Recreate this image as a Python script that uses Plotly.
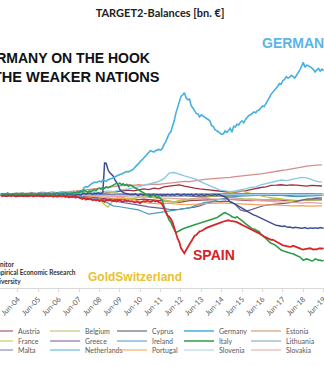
import pandas as pd
import plotly.graph_objects as go

# ---- monthly series (bn EUR), Aug 2003 .. Jun 2019 ----
months = pd.date_range("2003-08-01", "2019-06-01", freq="MS")

germany = [
    8, 4, 10, 6, 14,
    5, 9, 3, 12, 7, 10, 2, 8, 14, 6, 11, 4,
    9, 13, 6, 10, 3, 15, 8, 12, 5, 18, 10, 7,
    12, 6, 15, 9, 4, 14, 18, 10, 16, 8, 20, 13,
    10, 16, 8, 14, 20, 12, 18, 30, 55, 62, 58, 71,
    80, 86, 95, 90, 98, 102, 96, 110, 105, 100, 112, 115,
    118, 125, 132, 140, 146, 150, 155, 160, 168, 172, 170, 177,
    182, 190, 205, 215, 230, 245, 255, 270, 285, 300, 315, 326,
    322, 315, 325, 330, 335, 330, 340, 370, 390, 420, 450, 463,
    500, 545, 600, 640, 690, 725, 735, 751, 715, 700, 705, 656,
    640, 615, 600, 595, 575, 590, 580, 570, 560, 550, 545, 510,
    505, 480, 475, 465, 455, 445, 450, 470, 460, 478, 490, 461,
    505, 500, 520, 515, 535, 545, 530, 555, 570, 585, 590, 600,
    610, 605, 620, 625, 640, 655, 650, 670, 690, 715, 740, 754,
    770, 790, 800, 820, 815, 840, 850, 870, 860, 865, 880, 870,
    860, 880, 905, 920, 945, 975, 940, 955, 950, 945, 935, 920,
    905, 920, 930, 910, 925, 915,
]

spain = [
    -5, -8, -3, -10, -6,
    -4, -9, -2, -7, -12, -5, -8, -3, -10, -6, -4, -9,
    -7, -3, -11, -5, -8, -2, -9, -6, -12, -4, -7, -10,
    -5, -8, -13, -6, -10, -4, -9, -12, -7, -15, -10, -18,
    -12, -16, -10, -20, -14, -18, -25, -30, -22, -35, -28, -32,
    -30, -38, -34, -40, -36, -45, -38, -42, -50, -35, -40, -34,
    -38, -44, -36, -48, -42, -38, -45, -50, -40, -46, -42, -48,
    -45, -50, -55, -48, -52, -60, -50, -45, -48, -42, -46, -51,
    -45, -40, -48, -44, -52, -55, -70, -100, -130, -150, -160, -175,
    -200, -240, -290, -320, -345, -390, -410, -429, -405, -385, -360, -337,
    -315, -300, -295, -280, -268, -265, -255, -250, -242, -238, -232, -226,
    -222, -216, -212, -208, -206, -200, -195, -190, -188, -186, -190, -191,
    -192, -196, -200, -205, -210, -220, -226, -232, -238, -244, -250, -254,
    -262, -268, -275, -282, -290, -300, -305, -312, -320, -325, -330, -328,
    -335, -345, -352, -358, -365, -370, -372, -376, -378, -382, -380, -373,
    -378, -385, -388, -392, -398, -402, -398, -395, -390, -392, -396, -402,
    -398, -400, -395, -392, -396, -390,
]

italy = [
    5, 10, 3, 8, 12,
    6, 2, 9, 4, 11, 7, 3, 10, 5, 8, 2, 9,
    4, 11, 6, 2, 9, 5, 12, 7, 3, 10, 6, 13,
    8, 4, 12, 7, 15, 9, 5, 14, 10, 18, 12, 8,
    15, 10, 20, 14, 25, 18, 30, 22, 35, 28, 20, 30,
    25, 35, 40, 32, 45, 50, 42, 55, 48, 60, 52, 58,
    65, 72, 80, 85, 78, 88, 75, 82, 70, 78, 65, 72,
    68, 60, 55, 48, 40, 30, 20, 12, 5, -5, -10, -15,
    -5, 0, -10, -20, -15, -25, -40, -80, -110, -150, -185, -200,
    -230, -260, -275, -270, -262, -255, -250, -245, -240, -238, -232, -228,
    -225, -220, -215, -212, -208, -205, -200, -198, -195, -190, -186, -184,
    -180, -175, -168, -160, -150, -140, -135, -130, -135, -140, -150, -160,
    -165, -168, -160, -172, -180, -190, -200, -210, -220, -230, -240, -249,
    -250, -255, -265, -270, -285, -300, -310, -320, -335, -345, -355, -359,
    -365, -375, -385, -395, -405, -410, -415, -420, -425, -428, -430, -432,
    -440, -445, -450, -455, -465, -480, -475, -470, -475, -480, -485, -482,
    -470, -475, -480, -478, -485, -480,
]

ecb = [
    2, -3, 1, 4, -2,
    0, 3, -2, 1, 4, -1, 2, -3, 0, 3, 1, -2,
    2, -1, 3, 0, -2, 4, 1, -3, 2, 0, -1, 3,
    1, 4, -2, 0, 3, -1, 2, 5, 0, -2, 3, 1,
    4, 0, 2, -3, 5, 2, 0, 8, 12, 6, 10, 15,
    10, 5, 12, 8, 15, 10, 10, 20, 235, 232, 185, 165,
    150, 140, 115, 95, 74, 40, 25, 18, 12, 8, 6, 4,
    5, 3, 8, 2, -4, 6, 3, -2, 4, 1, 5, -3,
    2, 6, -1, 4, 0, 3, -5, 2, -3, 5, 1, -2,
    4, -2, 3, 6, 1, -4, 2, 5, -1, 3, 0, 4,
    -3, 2, 5, 0, -2, 4, 1, -5, 3, 0, 2, -3,
    1, 4, -2, 3, 0, -4, -8, -15, -25, -40, -50, -55,
    -62, -65, -72, -80, -88, -96, -104, -112, -120, -128, -136, -142,
    -148, -152, -158, -165, -172, -180, -186, -192, -198, -204, -210, -214,
    -218, -222, -225, -228, -230, -232, -228, -235, -238, -236, -240, -242,
    -238, -240, -244, -242, -245, -243, -240, -244, -246, -242, -244, -245,
    -242, -246, -244, -240, -243, -245,
]

# ---- quarterly series (bn EUR), Aug 2003 .. May 2019 ----
quarters = pd.date_range("2003-08-01", periods=64, freq="3MS")

netherlands = [
    5, 8, 3, 10, 6, 12, 4, 9, 7, 11, 5, 14, 8, 10, 6, 12,
    15, 10, 20, 18, 22, 30, 25, 35, 40, 45, 50, 60, 70, 80, 90, 100,
    120, 160, 165, 150, 140, 130, 120, 100, 85, 70, 50, 35, 30, 25, 30, 35,
    45, 55, 60, 75, 85, 90, 100, 110, 105, 115, 120, 130, 125, 110, 100, 95,
]
luxembourg = [
    5, 10, 8, 12, 15, 10, 18, 12, 20, 15, 22, 18, 25, 20, 28, 30,
    35, 40, 45, 50, 55, 60, 65, 70, 72, 75, 70, 75, 72, 78, 80, 78,
    82, 88, 92, 95, 100, 98, 105, 110, 115, 118, 120, 125, 128, 130, 135, 140,
    145, 148, 150, 155, 160, 168, 175, 180, 185, 190, 198, 205, 212, 218, 220, 222,
]
finland = [
    0, 3, -2, 5, 2, -3, 4, 1, -2, 6, 3, 0, 5, -1, 4, 2,
    5, 8, 3, 6, 10, 15, 20, 25, 30, 35, 30, 40, 45, 40, 50, 45,
    60, 65, 70, 74, 65, 55, 50, 45, 40, 35, 30, 25, 22, 20, 22, 25,
    30, 40, 50, 55, 60, 70, 72, 75, 70, 74, 72, 70, 65, 70, 68, 66,
]
greece = [
    -5, -8, -3, -10, -6, -12, -4, -9, -7, -11, -5, -14, -8, -10, -12, -15,
    -20, -25, -30, -28, -35, -40, -45, -50, -55, -60, -65, -70, -80, -87, -90, -95,
    -100, -105, -108, -105, -100, -98, -90, -80, -65, -52, -50, -48, -45, -50, -70, -110,
    -120, -110, -95, -85, -75, -72, -70, -65, -60, -55, -45, -35, -30, -28, -25, -22,
]
ireland = [
    3, -2, 5, 0, -4, 2, 6, -1, 3, -3, 1, 4, -2, 5, 0, -5,
    -10, -20, -30, -35, -40, -60, -80, -85, -90, -95, -100, -110, -125, -140, -135, -130,
    -120, -115, -110, -105, -100, -95, -80, -65, -55, -50, -40, -30, -20, -15, -10, -8,
    -5, -2, 0, 2, 5, 3, 0, -5, -8, -10, -12, -10, -8, -6, -5, -4,
]
portugal = [
    -2, 2, -4, 1, -3, 3, -1, -5, 2, -2, 0, -4, 1, -3, -5, -2,
    -5, -8, -12, -15, -20, -22, -25, -28, -30, -32, -35, -45, -55, -60, -62, -65,
    -62, -60, -65, -70, -72, -70, -68, -65, -60, -62, -60, -58, -60, -62, -65, -68,
    -70, -72, -70, -72, -75, -72, -75, -78, -80, -80, -80, -78, -82, -80, -78, -80,
]
belgium = [
    2, -3, 4, 0, -2, 5, 1, -4, 3, 0, -1, 4, -3, 2, 5, 0,
    -5, 0, 5, 8, 10, 15, 20, 12, 8, 5, 0, -5, -10, -15, -20, -25,
    -40, -50, -55, -45, -35, -30, -25, -20, -15, -10, -8, -5, -10, -15, -20, -25,
    -30, -28, -30, -32, -35, -30, -28, -30, -35, -38, -40, -42, -38, -35, -36, -38,
]
france = [
    5, 2, 8, 3, 6, 1, 9, 4, 7, 2, 10, 5, 8, 3, 12, 15,
    20, 25, 30, 10, -60, -90, -40, -15, -20, -30, -25, -15, -10, -5, -10, -20,
    -35, -45, -50, -40, -30, -35, -30, -25, -20, -15, -10, 0, 10, 20, 25, 30,
    20, 10, 0, -10, -15, -20, -25, -30, -35, -40, -45, -40, -30, -25, -20, -25,
]
austria = [
    -3, 2, -5, 0, -2, 3, -4, 1, -1, -3, 2, -2, 0, -4, -6, -8,
    -10, -12, -15, -20, -25, -30, -28, -35, -30, -32, -28, -34, -30, -33, -35, -38,
    -40, -45, -50, -55, -48, -42, -40, -38, -35, -32, -30, -28, -30, -32, -35, -38,
    -40, -42, -40, -38, -36, -34, -35, -38, -40, -42, -44, -40, -38, -36, -35, -34,
]
cyprus = [
    0, 1, -1, 2, 0, -2, 1, 0, -1, 2, 1, -1, 0, 2, 1, 3,
    4, 5, 6, 5, 4, 3, 2, 1, 0, -2, -3, -5, -4, -6, -5, -8,
    -7, -10, -8, -6, -9, -12, -10, -8, -7, -6, -5, -6, -4, -5, -3, -4,
    -2, -3, -2, -1, -2, 0, 1, 0, -1, 2, 3, 2, 4, 3, 2, 3,
]
estonia = [
    0, 1, 0, 2, 1, 0, 1, 2, 0, 1, 2, 1, 0, 2, 1, 3,
    2, 1, 3, 2, 1, 0, -1, 0, 1, 2, 1, 0, -1, 0, 1, 0,
    -1, 1, 2, 1, 0, 1, 2, 3, 2, 1, 2, 3, 4, 3, 2, 3,
    4, 5, 4, 3, 4, 5, 6, 5, 4, 5, 6, 5, 4, 5, 6, 5,
]
lithuania = [
    1, 0, 2, 1, 0, -1, 1, 0, 2, 1, 0, 1, -1, 0, 1, 2,
    1, 0, -1, -2, -1, 0, 1, 2, 3, 2, 1, 2, 3, 4, 3, 2,
    1, 2, 0, -1, 1, 2, 3, 2, 1, 0, 2, 3, 5, 6, 4, 5,
    3, 2, 4, 5, 3, 2, 4, 6, 5, 4, 3, 5, 6, 4, 3, 4,
]
latvia = [
    0, 1, -1, 0, 1, 0, -1, 1, 0, 1, 0, -1, 1, 0, 0, 1,
    0, -1, 1, 0, -2, -1, 0, 1, 2, 1, 0, 2, 3, 2, 1, 2,
    3, 2, 1, 2, 3, 2, 1, 0, 1, 2, 3, 2, 1, 3, 4, 3,
    2, 3, 4, 3, 2, 3, 4, 5, 4, 3, 4, 5, 4, 3, 4, 5,
]
malta = [
    0, 1, 2, 1, 0, 1, 2, 1, 0, 2, 1, 0, 1, 2, 1, 0,
    1, 2, 3, 2, 1, 2, 3, 4, 3, 2, 3, 4, 5, 4, 3, 4,
    5, 4, 3, 4, 5, 6, 5, 4, 5, 6, 7, 6, 5, 6, 7, 8,
    7, 6, 7, 8, 9, 8, 7, 8, 9, 10, 9, 8, 9, 10, 9, 8,
]
slovenia = [
    0, -1, 0, 1, -1, 0, -1, 1, 0, -1, 0, 1, 0, -1, -2, -1,
    -2, -3, -2, -4, -3, -5, -4, -3, -5, -4, -6, -5, -4, -6, -5, -7,
    -6, -8, -7, -6, -8, -5, -4, -3, -2, -3, -1, 0, 1, 0, 2, 1,
    0, 2, 3, 2, 4, 3, 2, 4, 5, 4, 3, 5, 4, 3, 5, 4,
]
slovakia = [
    0, 1, -1, 0, 1, -1, 0, 2, 1, 0, -1, 1, 0, 2, 1, 0,
    -1, -2, -3, -2, -5, -8, -10, -12, -10, -14, -12, -15, -18, -15, -20, -22,
    -20, -25, -28, -30, -32, -30, -28, -26, -25, -28, -30, -32, -35, -30, -28, -32,
    -35, -38, -40, -42, -45, -48, -50, -52, -50, -55, -58, -60, -55, -58, -60, -62,
]

# legend entries: (name, x-values, y-values, colour, width), laid out 5 per row
legend_series = [
    ("Austria", quarters, austria, "#9c3d4a", 1.2),
    ("Belgium", quarters, belgium, "#b4bb66", 1.2),
    ("Cyprus", quarters, cyprus, "#4f4f60", 1.2),
    ("Germany", months, germany, "#45b0e0", 1.6),
    ("Estonia", quarters, estonia, "#c98b5c", 1.2),
    ("France", quarters, france, "#b9c43e", 1.2),
    ("Greece", quarters, greece, "#6d5c96", 1.2),
    ("Ireland", quarters, ireland, "#4a9dc0", 1.2),
    ("Italy", months, italy, "#2e9c4a", 1.6),
    ("Lithuania", quarters, lithuania, "#7f9bb5", 1.2),
    ("Malta", quarters, malta, "#7878bf", 1.2),
    ("Netherlands", quarters, netherlands, "#86c8e6", 1.3),
    ("Portugal", quarters, portugal, "#f2a253", 1.2),
    ("Slovenia", quarters, slovenia, "#a9d3ec", 1.2),
    ("Slovakia", quarters, slovakia, "#e5a3a3", 1.2),
]
# further series without a visible legend entry
spain_s = ("Spain", months, spain, "#d7262b", 1.8)
finland_s = ("Finland", quarters, finland, "#a02d3c", 1.3)
luxembourg_s = ("Luxembourg", quarters, luxembourg, "#d58f8d", 1.3)
latvia_s = ("Latvia", quarters, latvia, "#c6bfdc", 1.2)
ecb_s = ("ECB", months, ecb, "#3d4f91", 1.5)

for _, xs, ys, _, _ in legend_series + [spain_s, finland_s, luxembourg_s, latvia_s, ecb_s]:
    assert len(xs) == len(ys)

tick_years = list(range(2004, 2020))
tick_vals = [f"{y}-06-01" for y in tick_years]
tick_text = [f"Jun-{y % 100:02d}" for y in tick_years]

W, H = 324, 366
PLOT_TOP, PLOT_BOTTOM = 30, 288


def px_x(x):
    return x / W


def px_y(y):
    return (PLOT_BOTTOM - y) / (PLOT_BOTTOM - PLOT_TOP)


fig = go.Figure()

legend_cols = [18, 85, 152, 219, 286]
legend_rows = [331, 341, 350]
legend_layout = {}
legend_ids = {}
for k, (name, *_rest) in enumerate(legend_series):
    lid = "legend" if k == 0 else f"legend{k + 1}"
    legend_ids[name] = lid
    r, c = divmod(k, 5)
    legend_layout[lid] = dict(
        x=px_x(legend_cols[c] - 40), xanchor="left",
        y=px_y(legend_rows[r]), yanchor="middle",
        orientation="h", bgcolor="rgba(0,0,0,0)", borderwidth=0,
        itemwidth=30,
        font=dict(family="Lato, Open Sans, sans-serif", size=7, color="#595959"),
    )

big_names = {"Germany", "Italy"}
background = [latvia_s, finland_s, luxembourg_s] + [s for s in legend_series if s[0] not in big_names]
foreground = [ecb_s] + [s for s in legend_series if s[0] in big_names] + [spain_s]

for name, xs, ys, color, width in background + foreground:
    fig.add_trace(go.Scatter(
        x=xs, y=ys, name=name, mode="lines",
        line=dict(color=color, width=width),
        showlegend=name in legend_ids,
        legend=legend_ids.get(name, "legend"),
    ))

bold = dict(family="Liberation Sans, Arial, sans-serif", weight="bold")
headline = [("GERMANY ON THE HOOK", 152, 58, 14), ("FOR THE WEAKER NATIONS", 162, 77, 14.6)]
for line, right_px, y_px, size in headline:
    fig.add_annotation(
        text=line, xref="paper", yref="paper", x=px_x(right_px), y=px_y(y_px),
        xanchor="right", yanchor="middle", showarrow=False,
        font=dict(size=size, color="#111111", **bold),
    )
fig.add_annotation(
    text="GERMANY", xref="x", yref="y", x="2016-04-10", y=1118,
    xanchor="left", yanchor="middle", showarrow=False,
    font=dict(size=14, color="#5ab6e6", **bold),
)
fig.add_annotation(
    text="SPAIN", xref="x", yref="y", x="2014-01-10", y=-441,
    xanchor="center", yanchor="middle", showarrow=False,
    font=dict(size=14, color="#d2232a", **bold),
)
fig.add_annotation(
    text="GoldSwitzerland", xref="paper", yref="paper",
    x=px_x(135), y=px_y(277), xanchor="center", yanchor="middle",
    showarrow=False, font=dict(size=12, color="#e9c22f", **bold),
)
fig.add_annotation(
    text="Euro Crisis Monitor<br>Institute of Empirical Economic Research<br>Osnabrück University",
    xref="paper", yref="paper", x=px_x(-44), y=px_y(273),
    xanchor="left", yanchor="middle", align="left", showarrow=False,
    font=dict(family="Lato, Open Sans, sans-serif", size=6.5, color="#333333", weight="bold"),
)

fig.update_layout(
    width=W, height=H,
    margin=dict(l=0, r=0, t=PLOT_TOP, b=H - PLOT_BOTTOM, autoexpand=False),
    paper_bgcolor="white", plot_bgcolor="white",
    title=dict(
        text="TARGET2-Balances [bn. €]", x=px_x(160), xanchor="center",
        y=1 - 13 / H, yanchor="middle",
        font=dict(family="Lato, Open Sans, sans-serif", size=11, color="#222222", weight="bold"),
    ),
    hovermode=False,
    **legend_layout,
)
fig.update_xaxes(
    type="date", range=["2003-07-16", "2019-06-08"],
    tickmode="array", tickvals=tick_vals, ticktext=tick_text, tickangle=-45,
    ticklabeloverflow="allow",
    tickfont=dict(family="Lato, Open Sans, sans-serif", size=7.5, color="#595959"),
    showline=True, linecolor="#d9d9d9", linewidth=1,
    ticks="outside", ticklen=3, tickcolor="#d9d9d9",
    showgrid=False, zeroline=False,
)
fig.update_yaxes(
    range=[-684, 1213], showticklabels=False, showgrid=False,
    zeroline=True, zerolinecolor="#cdc8c0", zerolinewidth=2.5,
)

fig.write_html("out.html")
